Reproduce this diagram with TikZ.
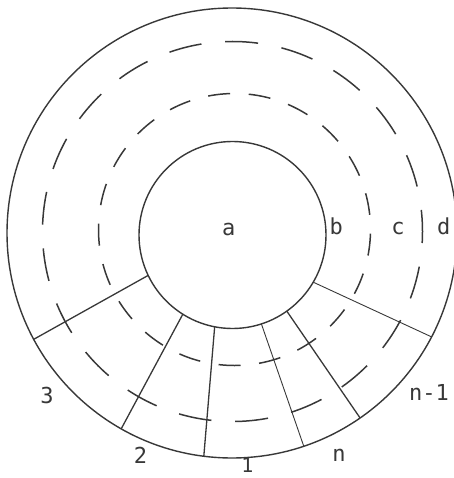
\documentclass[tikz,border=0pt]{standalone}
\usepackage{fontspec}
\usepackage{tikz}
\usetikzlibrary{calc}
\newfontfamily\labelfont{DejaVu Sans Mono}
\definecolor{ink}{rgb}{0.22,0.22,0.22}

\begin{document}
\begin{tikzpicture}[x=1pt,y=1pt,yscale=-1,xscale=1]
\useasboundingbox (0,0) rectangle (453,478);
\tikzset{
  solidring/.style={color=ink, line width=1.4},
  dashring/.style={color=ink, line width=1.5},
  thickcut/.style={color=ink, line width=1.3},
  thincut/.style={color=ink, line width=0.9},
  seglabel/.style={anchor=base, inner sep=0pt, text=ink, font=\labelfont\fontsize{22}{24}\selectfont}
}
\coordinate (ctrOut) at (232,233);
\coordinate (ctrIn) at (232.5,235);
\coordinate (ctrDashOut) at (232.5,231.5);
\coordinate (ctrDashIn) at (234.5,229.5);

%Shape: Circle [outer]
\draw [solidring] (ctrOut) circle (225);
%Shape: Circle [inner]
\draw [solidring] (ctrIn) circle (93.5);
%Shape: Circle [dashed d]
\draw [dashring, dash pattern=on 33pt off 23.85pt, dash phase=21.5pt] (ctrDashOut) circle (190);
%Shape: Circle [dashed c]
\draw [dashring, dash pattern=on 22pt off 18.69pt, dash phase=36.5pt] (ctrDashIn) circle (136);

%Straight Lines [3|2]
\draw [thickcut] ($(ctrIn)+(154.4:93.5)$) -- ($(ctrOut)+(151.8:225)$);
%Straight Lines [2|1]
\draw [thickcut] ($(ctrIn)+(122.1:93.5)$) -- ($(ctrOut)+(119.5:225)$);
%Straight Lines [1|...]
\draw [thickcut] ($(ctrIn)+(101:93.5)$) -- ($(ctrOut)+(97.2:225)$);
%Straight Lines [...|n]
\draw [thincut] ($(ctrIn)+(72:93.5)$) -- ($(ctrOut)+(71.4:225)$);
%Straight Lines [n|n-1]
\draw [thickcut] ($(ctrIn)+(54.5:93.5)$) -- ($(ctrOut)+(55.3:225)$);
%Straight Lines [n-1|...]
\draw [thincut] ($(ctrIn)+(30.3:93.5)$) -- ($(ctrOut)+(27.5:225)$);

% Text Node
\node (lblA) [seglabel] at (228.8,235) {a};
% Text Node
\node (lblB) [seglabel] at (336.3,234) {b};
% Text Node
\node (lblC) [seglabel] at (398,234) {c};
% Text Node
\node (lblD) [seglabel] at (443.7,234) {d};
% Text Node
\node (lblThree) [seglabel] at (47,403) {3};
% Text Node
\node (lblTwo) [seglabel] at (140.5,463.3) {2};
% Text Node
\node (lblOne) [seglabel] at (247.5,472) {\fontsize{20}{22}\selectfont 1};
% Text Node
\node (lblN) [seglabel] at (339,461.7) {n};
% Text Node
\node (lblNm) [seglabel] at (429,400) {n-1};

\end{tikzpicture}
\end{document}
